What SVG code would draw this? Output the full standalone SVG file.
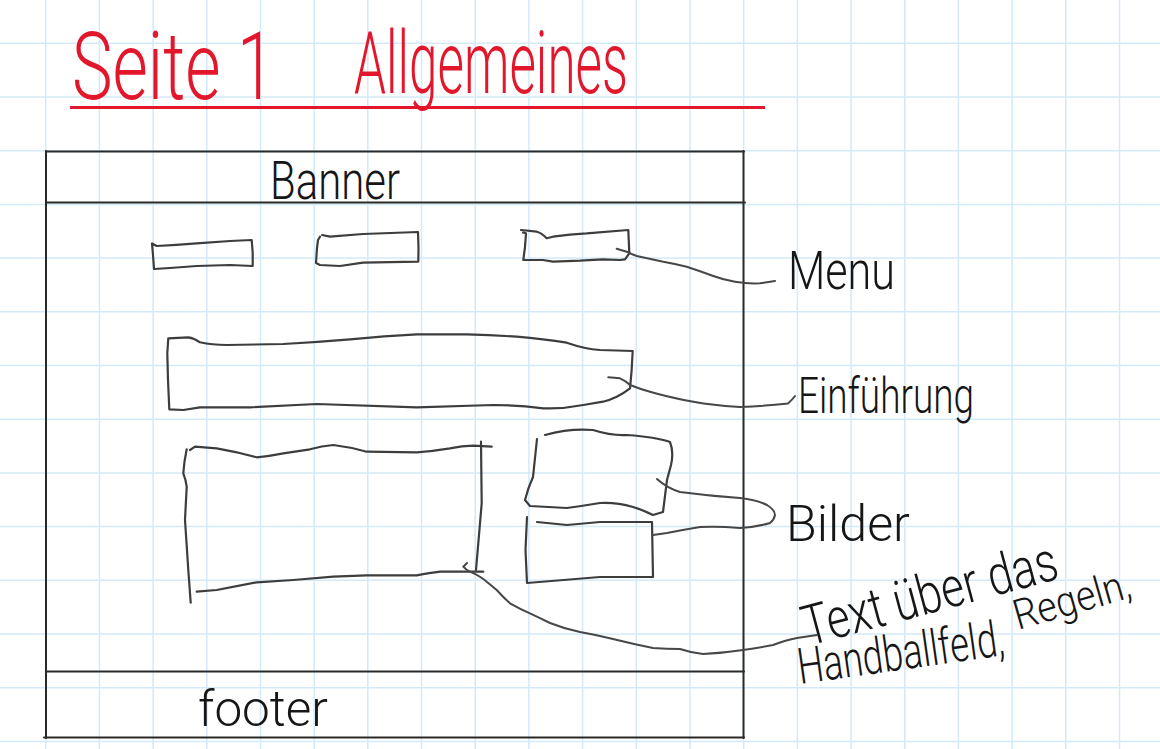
<svg xmlns="http://www.w3.org/2000/svg" width="1160" height="749" viewBox="0 0 1160 749">
<style>
.grid{stroke:#d3eaf8;stroke-width:1.5;fill:none}
.frame{fill:none;stroke:#2a2a2a;stroke-width:2;stroke-linecap:round}
.box{fill:none;stroke:#3d3d3d;stroke-width:2.2;stroke-linejoin:round;stroke-linecap:round}
.conn{fill:none;stroke:#474747;stroke-width:2;stroke-linejoin:round;stroke-linecap:round}
.hw{font-family:"Roboto","Lato","Liberation Sans",sans-serif;font-weight:300;fill:#161616}
.red{fill:#e3172b}
</style>
<rect width="1160" height="749" fill="#ffffff"/>
<g id="grid" class="grid">
<path d="M45.7 0V749M99.4 0V749M153.1 0V749M206.8 0V749M260.5 0V749M314.2 0V749M367.8 0V749M421.5 0V749M475.2 0V749M528.9 0V749M582.6 0V749M636.3 0V749M690 0V749M743.7 0V749M797.4 0V749M851.1 0V749M904.8 0V749M958.4 0V749M1012.1 0V749M1065.8 0V749M1119.5 0V749"/>
<path d="M0 43.3H1160M0 97H1160M0 150.7H1160M0 204.4H1160M0 258.1H1160M0 311.8H1160M0 365.5H1160M0 419.2H1160M0 472.9H1160M0 526.6H1160M0 580.3H1160M0 634H1160M0 687.7H1160M0 741.4H1160"/>
</g>
<g id="title">
<text class="hw red" x="72" y="99" font-size="94" textLength="203" lengthAdjust="spacingAndGlyphs">Seite 1</text>
<text class="hw red" x="354" y="93" font-size="88" textLength="274" lengthAdjust="spacingAndGlyphs">Allgemeines</text>
<path d="M70 107.5H765" stroke="#e3172b" stroke-width="3" fill="none"/>
</g>
<g id="page-frame">
<path class="frame" d="M46 151.5H744" stroke="#444"/>
<path class="frame" d="M46 151V738" stroke="#111" stroke-width="2.5"/>
<path class="frame" d="M743.5 151V738"/>
<path class="frame" d="M46 202.5H745" stroke="#111" stroke-width="3"/>
<path class="frame" d="M46 671.5H744" stroke="#444"/>
<path class="frame" d="M44 737.5H744" stroke="#333" stroke-width="2.5"/>
</g>
<g id="banner">
<text class="hw" x="270" y="199" font-size="54" textLength="130" lengthAdjust="spacingAndGlyphs">Banner</text>
</g>
<g id="menu-1">
<path class="box" d="M152 243.5L156.7 246Q176 245 196.7 243.3L230 241L251.7 240L252.7 253L252.7 266L230 265L196.7 266L170 268L154 269L153 255L152 243.5"/>
</g>
<g id="menu-2">
<path class="box" d="M322 235L330 236.7L363 234L418 232L418.5 248L418.3 261.7L363 262.7L340 266L320 265L316 263L317 248L318 240L320 236.7"/>
</g>
<g id="menu-3">
<path class="box" d="M521 230L536.7 231.7Q542 233 546.7 238.3L553 236.7Q570 234 586.7 233.3L628.3 230L629.3 253.3L625 259.3L620 260L603 259.3L580 260.7L553 261.7L543 260L523.3 260L525 247L526 233.3L523 232.5"/>
</g>
<g id="einfuehrung-box">
<path class="box" d="M168.3 338.3L188.3 337.3Q194 338 200 342.3Q212 345 226.7 345L283.3 344Q318 342 350 339.3Q385 336 416.7 334.3L466.7 334.3Q493 335 516.7 336.7Q544 339 566.7 342.7Q585 349 600 350L632.7 351L631.5 372L630 388.3Q624 393 616.7 396.7Q610 400 603 401.7L583.3 405Q563 409 543.3 408.3Q518 405 493.3 405L416.7 407.3L316.7 404L250 407.3L200 407.3L183.3 410L169.3 409.3L168 380L167.3 353.3L168.3 338.3"/>
</g>
<g id="text-box">
<path class="box" d="M190 450L195 446.7L216.7 448.3Q238 452 256.7 457.3Q270 456 283.3 453.3L310 449.3Q322 446 333.3 445Q350 447 366.7 451.7L416.7 452.3Q434 451 450 448.3Q462 446 473.3 445.7L491.7 446.7"/>
<path class="box" d="M186.7 449.3Q184 462 183.3 473.3Q186 480 186.7 486.7L185 520L188.3 570L190.7 602.7"/>
<path class="box" d="M481 441.7L481.7 503.3L476 570"/>
<path class="box" d="M196.7 591.7L216.7 590Q238 586 256.7 582.3L293.3 580L333.3 576.7L366.7 575.3L416.7 575.3Q430 573 440 571.7L483.3 571.7"/>
</g>
<g id="bild-1">
<path class="box" d="M545 435Q570 428 593 430Q612 436 627 435Q656 437 670 442Q674 452 671 465L667 480L663 512L653 515Q643 510 633 507Q616 502 600 503Q582 506 567 508L530 506L525 500Q528 488 533 477L537 439"/>
</g>
<g id="bild-2">
<path class="box" d="M537 522L567 525L600 522L652 522L652.5 550L653 577L600 577L527 583L525.5 550L527 517"/>
</g>
<g id="labels">
<text class="hw" x="788" y="289" font-size="54" textLength="107" lengthAdjust="spacingAndGlyphs">Menu</text>
<text class="hw" x="798" y="413" font-size="50" textLength="176" lengthAdjust="spacingAndGlyphs">Einführung</text>
<text class="hw" x="786" y="541" font-size="50" textLength="124" lengthAdjust="spacingAndGlyphs">Bilder</text>
<text class="hw" x="808" y="646" font-size="56" textLength="262" lengthAdjust="spacingAndGlyphs" transform="rotate(-15 808 646)">Text über das</text>
<text class="hw" x="800" y="684" font-size="50" textLength="208" lengthAdjust="spacingAndGlyphs" transform="rotate(-8 800 684)">Handballfeld,</text>
<text class="hw" x="1018" y="630" font-size="42" textLength="120" lengthAdjust="spacingAndGlyphs" transform="rotate(-16 1018 630)">Regeln,</text>
</g>
<g id="footer">
<text class="hw" x="198" y="726" font-size="50" textLength="130" lengthAdjust="spacingAndGlyphs">footer</text>
</g>
<g id="connectors" class="conn">
<path d="M616.7 248.7L626.7 251.7Q631 254 636.7 256L663.3 261.7Q676 264 686.7 266.7Q700 271 713.3 276Q724 280 735 281.7Q748 284 760 283.3L775 281"/>
<path d="M608.3 377.3L620 378.3Q626 381 630 385Q640 389 650 391.7Q658 394 666 396Q686 401 703.5 403.5Q722 406 740 407Q765 406 788 403.5Q792 400 795 396"/>
<path d="M657 479Q667 488 680 492Q710 496 740 498Q757 500 767 505Q775 510 775 515Q774 520 770 523Q757 527 740 528Q718 526 700 527Q682 530 667 533L653 535"/>
<path d="M467 563L463.3 566.7Q466 570 470 571.7Q480 576 486.7 581.7Q492 586 496.7 590Q503 597 510 603.3Q520 609 530 613.3Q540 618 550 623Q565 629 580 632Q597 635 613 639Q633 644 653 648Q667 649 680 649Q692 653 703 654Q724 653 743 650Q758 648 773 645Q786 640 797 638L817 635"/>
</g>
</svg>
